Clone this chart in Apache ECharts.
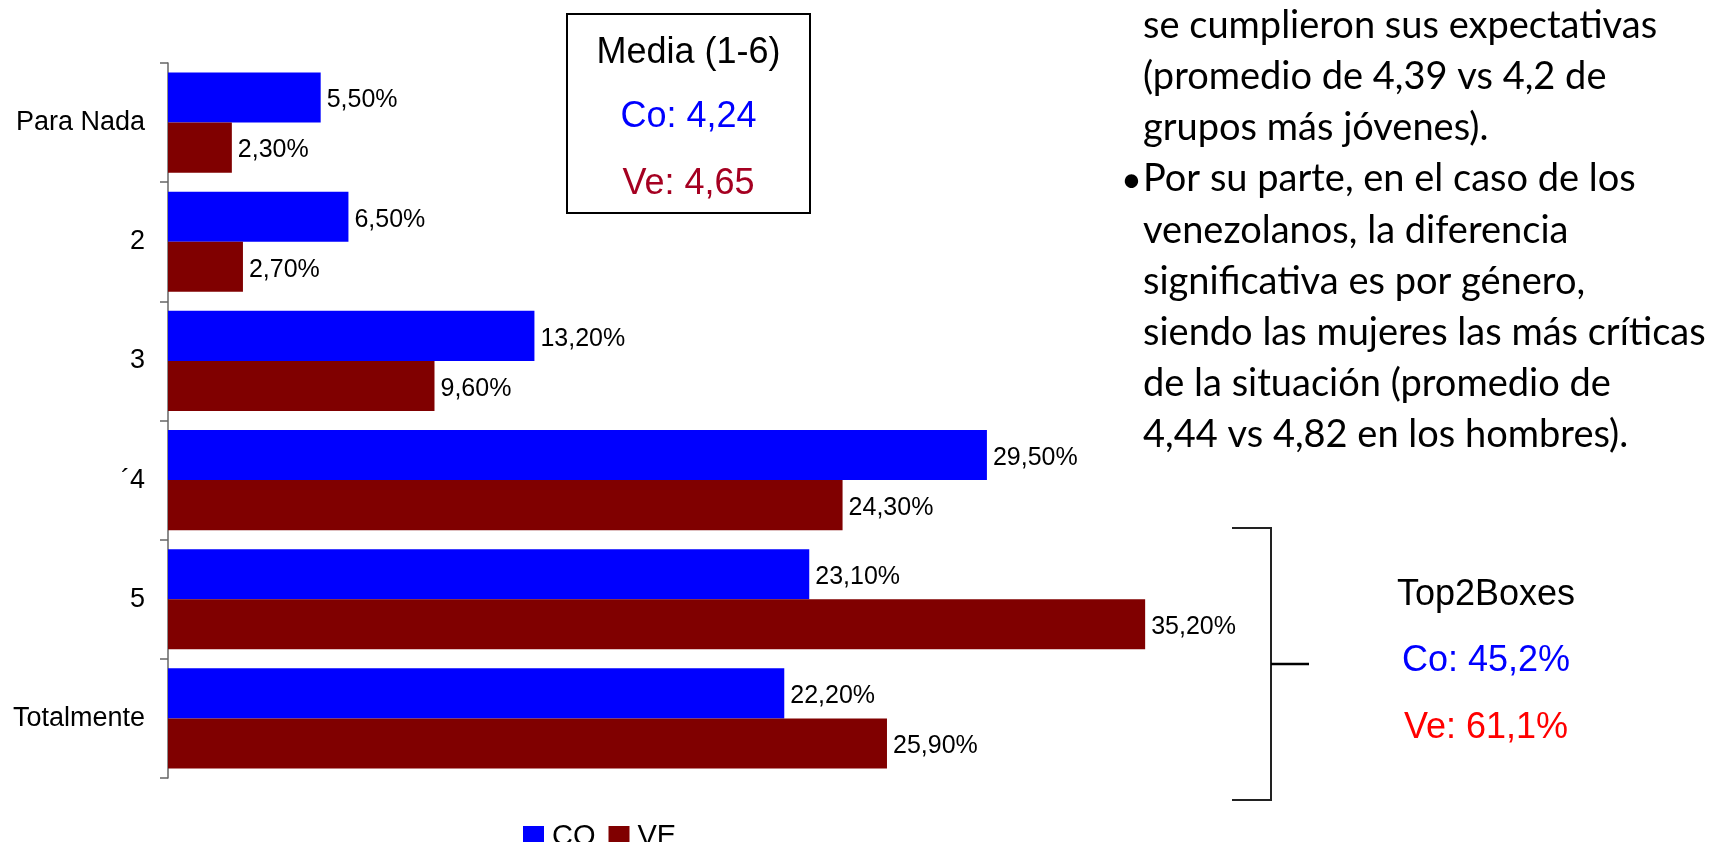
<!DOCTYPE html>
<html>
<head>
<meta charset="utf-8">
<script src="https://cdn.jsdelivr.net/npm/echarts@6/dist/echarts.min.js"></script>
<style>
html,body{margin:0;padding:0;background:#fff;}
#chart{width:1719px;height:842px;}
</style>
</head>
<body>
<div id="chart"></div>
<script>
// datos del grafico
var categorias = ['Para Nada', '2', '3', '´4', '5', 'Totalmente'];
var valoresCO = [5.5, 6.5, 13.2, 29.5, 23.1, 22.2];
var valoresVE = [2.3, 2.7, 9.6, 24.3, 35.2, 25.9];
var series = ['CO', 'VE'];
var mediaTitulo = 'Media (1-6)';
var mediaCO = 'Co: 4,24';
var mediaVE = 'Ve: 4,65';
var topTitulo = 'Top2Boxes';
var topCO = 'Co: 45,2%';
var topVE = 'Ve: 61,1%';
var notas = [
	'se cumplieron sus expectativas',
	'(promedio de 4,39 vs 4,2 de',
	'grupos más jóvenes).',
	'Por su parte, en el caso de los',
	'venezolanos, la diferencia',
	'significativa es por género,',
	'siendo las mujeres las más críticas',
	'de la situación (promedio de',
	'4,44 vs 4,82 en los hombres).'
];

var fuente = '"Liberation Sans", Arial, sans-serif';

function etiqueta(p){
	return p.value.toFixed(2).replace('.', ',') + '%';
}

var chart = echarts.init(document.getElementById('chart'));
var option = {
	animation: false,
	grid: {left: 168, top: 63, width: 1110.4, height: 715},
	legend: {
		data: series,
		left: 518,
		top: 817,
		itemWidth: 21,
		itemHeight: 21,
		itemGap: 13,
		icon: 'rect',
		textStyle: {fontFamily: fuente, fontSize: 29, color: '#000', padding: [0, 0, 0, 3]}
	},
	xAxis: {type: 'value', min: 0, max: 40, show: false},
	yAxis: {
		type: 'category',
		data: categorias,
		inverse: true,
		axisLine: {lineStyle: {color: '#666', width: 1.5}},
		axisTick: {show: true, length: 8, lineStyle: {color: '#666', width: 1.5}},
		axisLabel: {fontFamily: fuente, fontSize: 27, color: '#000', margin: 23, padding: [6, 0, 0, 0]}
	},
	series: [{
		name: series[0],
		type: 'bar',
		data: valoresCO,
		barGap: '0%',
		barCategoryGap: '16%',
		itemStyle: {color: '#0000FF'},
		label: {show: true, position: 'right', distance: 6, offset: [0, 3], formatter: etiqueta,
			fontFamily: fuente, fontSize: 25, color: '#000'}
	}, {
		name: series[1],
		type: 'bar',
		data: valoresVE,
		barGap: '0%',
		barCategoryGap: '16%',
		itemStyle: {color: '#800000'},
		label: {show: true, position: 'right', distance: 6, offset: [0, 3], formatter: etiqueta,
			fontFamily: fuente, fontSize: 25, color: '#000'}
	}],
	graphic: [
		//cuadro media
		{type: 'rect', shape: {x: 567, y: 14, width: 243, height: 199},
			style: {fill: '#fff', stroke: '#000', lineWidth: 2}},
		{type: 'text', x: 688.5, y: 53, style: {text: mediaTitulo, fill: '#000', font: '36px ' + fuente, align: 'center', verticalAlign: 'middle'}},
		{type: 'text', x: 688.5, y: 117, style: {text: mediaCO, fill: '#0000FF', font: '36px ' + fuente, align: 'center', verticalAlign: 'middle'}},
		{type: 'text', x: 688.5, y: 184, style: {text: mediaVE, fill: '#A50021', font: '36px ' + fuente, align: 'center', verticalAlign: 'middle'}},
		//llave top2boxes
		{type: 'polyline', shape: {points: [[1232, 528], [1271, 528], [1271, 800], [1232, 800]]},
			style: {stroke: '#222', lineWidth: 2, fill: null}},
		{type: 'line', shape: {x1: 1271, y1: 664, x2: 1309, y2: 664},
			style: {stroke: '#000', lineWidth: 2.5}},
		{type: 'text', x: 1486, y: 595, style: {text: topTitulo, fill: '#000', font: '36px ' + fuente, align: 'center', verticalAlign: 'middle'}},
		{type: 'text', x: 1486, y: 661, style: {text: topCO, fill: '#0000FF', font: '36px ' + fuente, align: 'center', verticalAlign: 'middle'}},
		{type: 'text', x: 1486, y: 728, style: {text: topVE, fill: '#FF0000', font: '36px ' + fuente, align: 'center', verticalAlign: 'middle'}},
		//texto derecha
		{type: 'text', x: 1143, y: 0, style: {text: notas.join('\n'), fill: '#000', font: '38px Lato, sans-serif', lineHeight: 51.2, align: 'left', verticalAlign: 'top'}},
		{type: 'text', x: 1121, y: 180, style: {text: '•', fill: '#000', font: '36px Lato, sans-serif', align: 'left', verticalAlign: 'middle'}}
	]
};
chart.setOption(option);
</script>
</body>
</html>
